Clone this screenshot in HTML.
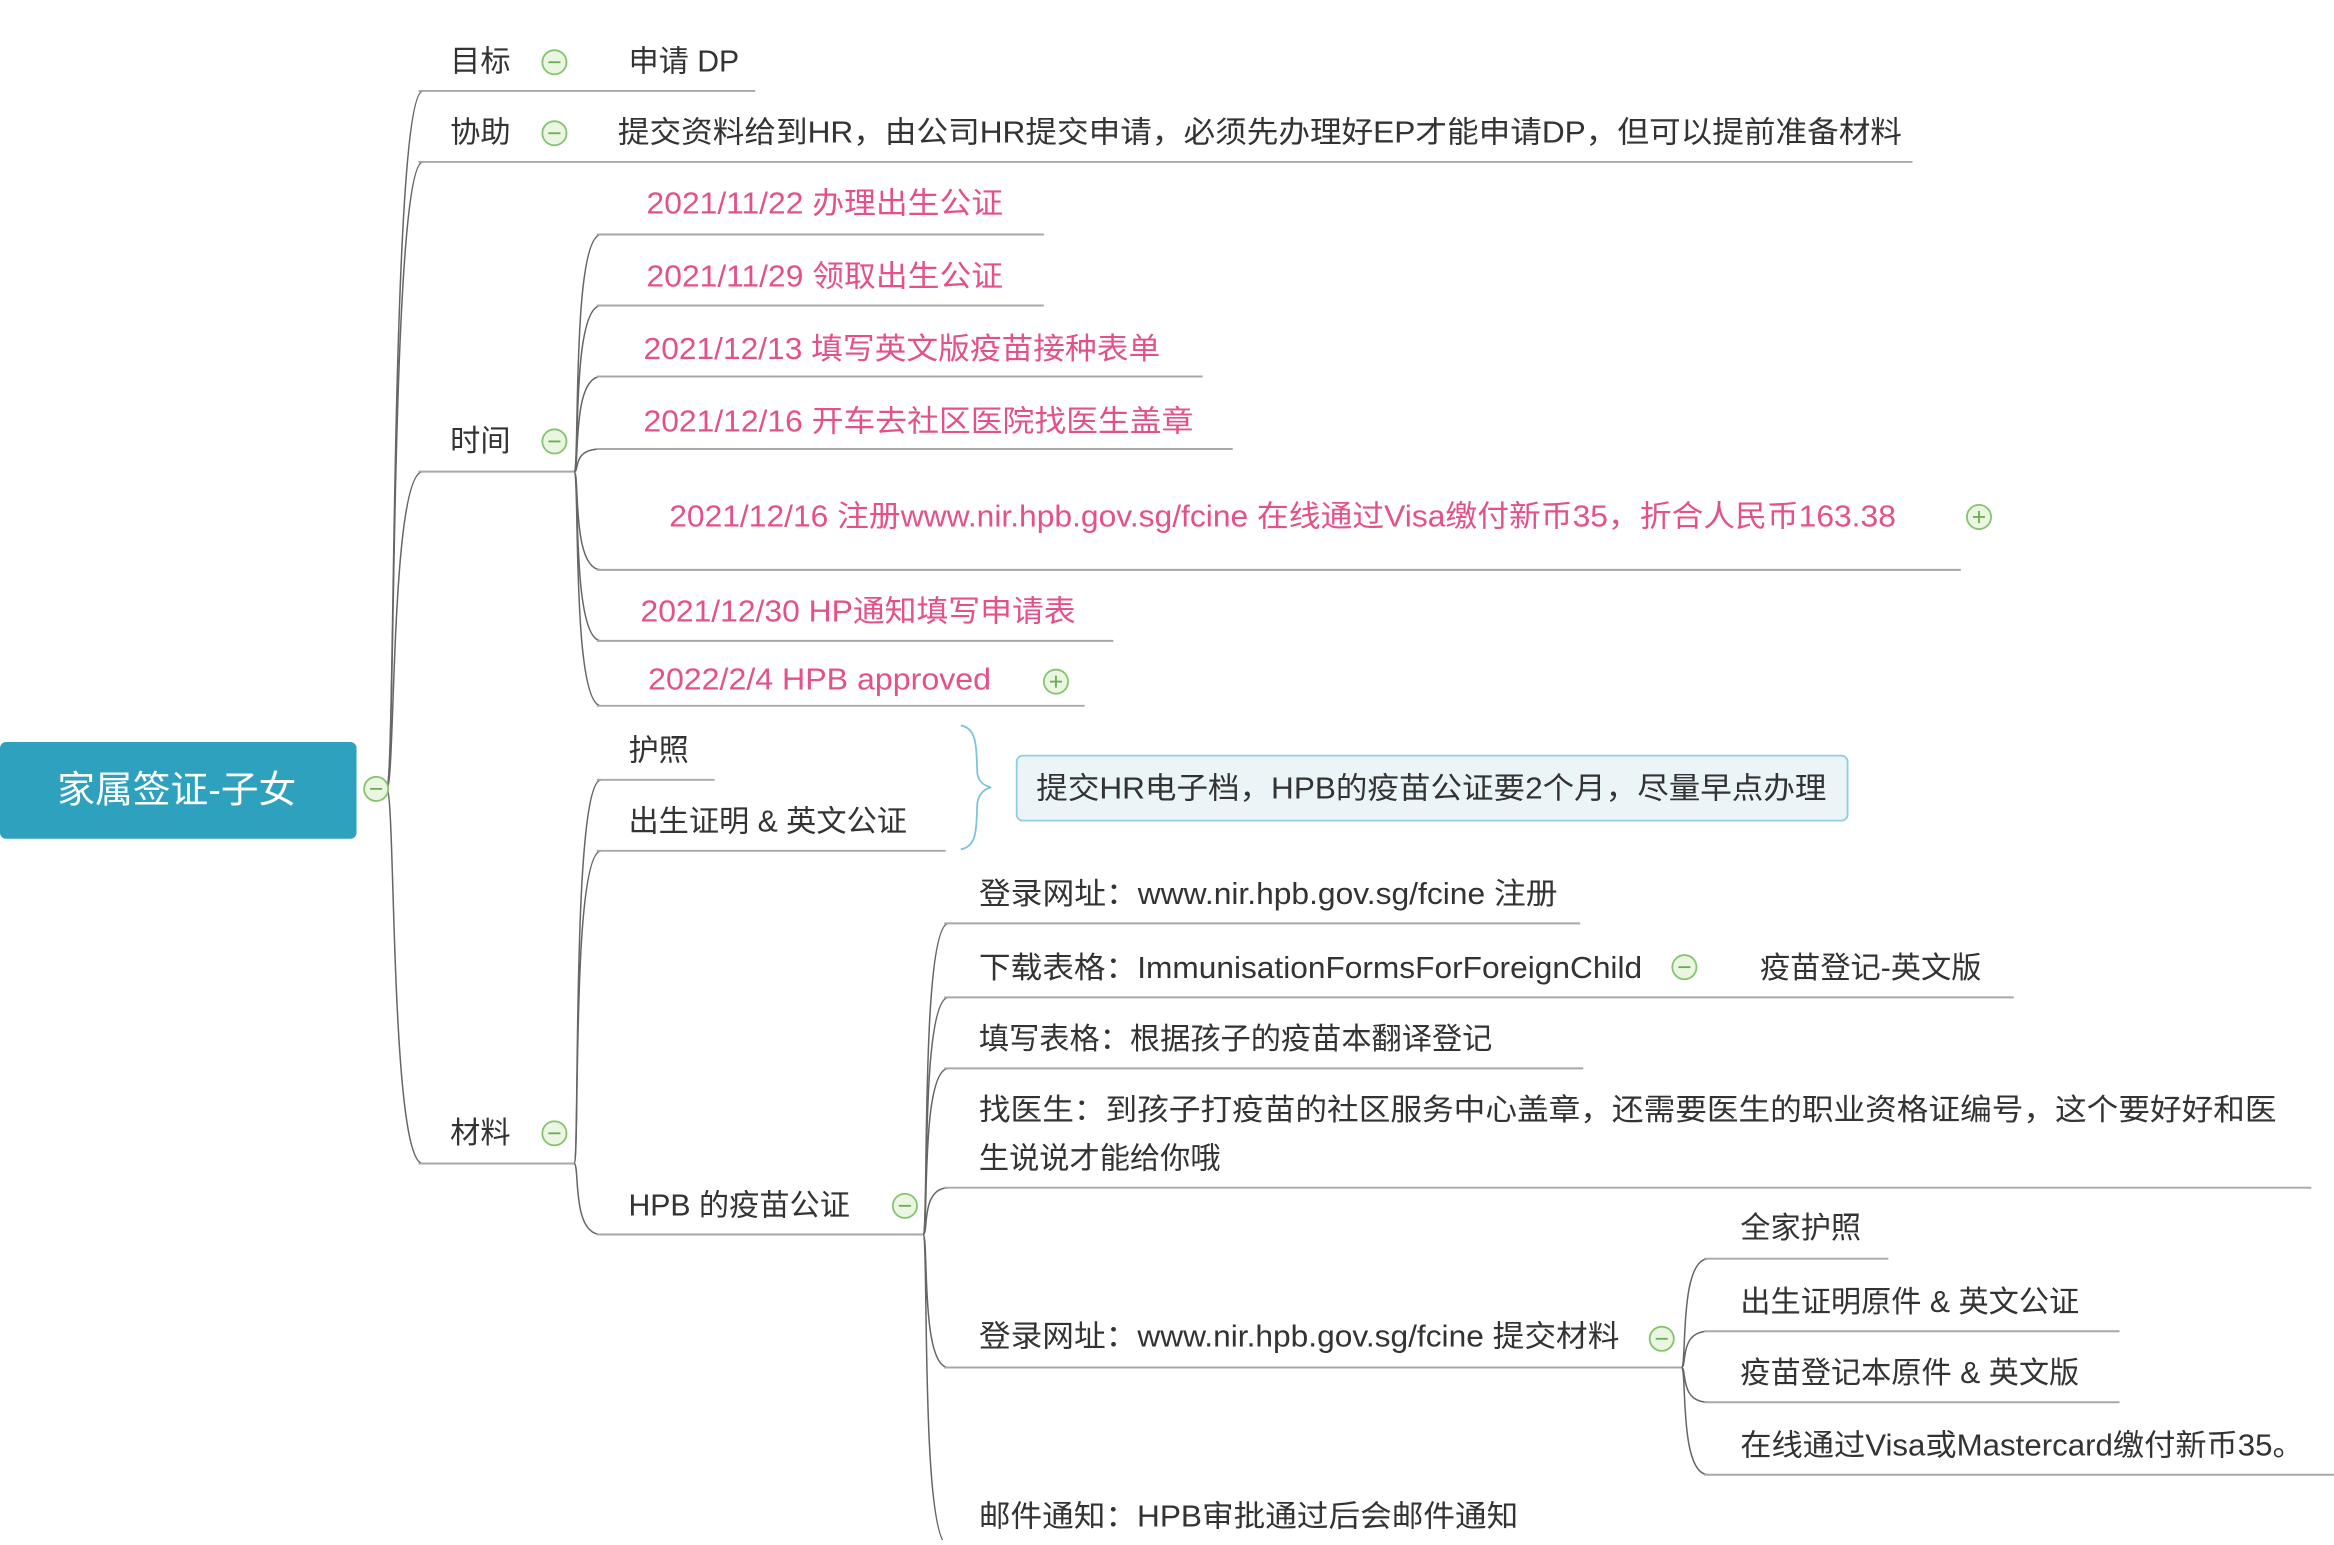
<!DOCTYPE html>
<html><head><meta charset="utf-8"><style>
html,body{margin:0;padding:0;background:#fff;}
svg text{font-family:"Liberation Sans","Noto Sans CJK SC",sans-serif;dominant-baseline:central;}
</style></head><body>
<svg width="2334" height="1540" viewBox="0 0 1545 1019" xmlns="http://www.w3.org/2000/svg">
<defs>
<g id="minus"><circle r="8" fill="#eaf6e2" stroke="#86c46f" stroke-width="1.2"/><line x1="-4" y1="0" x2="4" y2="0" stroke="#6aab55" stroke-width="1.2"/></g>
<g id="plus"><circle r="8" fill="#eaf6e2" stroke="#86c46f" stroke-width="1.2"/><line x1="-4" y1="0" x2="4" y2="0" stroke="#6aab55" stroke-width="1.2"/><line x1="0" y1="-4" x2="0" y2="4" stroke="#6aab55" stroke-width="1.2"/></g>
</defs>
<g fill="none" stroke="#666" stroke-width="1">
<!-- trunk curves -->
<path d="M256 522 C262 522 258 60 280 60"/>
<path d="M256 522 C262 522 258 107 280 107"/>
<path d="M256 522 C262 522 258 312 280 312"/>
<path d="M256 522 C262 522 258 770 280 770"/>
<!-- 时间 children -->
<path d="M380 312 C384 312 378 155 398 155"/>
<path d="M380 312 C384 312 378 202 398 202"/>
<path d="M380 312 C384 312 378 249 398 249"/>
<path d="M380 312 C384 312 378 297 398 297"/>
<path d="M380 312 C384 312 378 377 398 377"/>
<path d="M380 312 C384 312 378 424 398 424"/>
<path d="M380 312 C384 312 378 467 398 467"/>
<!-- 材料 children -->
<path d="M380 770 C384 770 378 516 398 516"/>
<path d="M380 770 C384 770 378 563 398 563"/>
<path d="M380 770 C384 770 378 817 398 817"/>
<!-- HPB children -->
<path d="M611 817 C615 817 609 611 628 611"/>
<path d="M611 817 C615 817 609 660 628 660"/>
<path d="M611 817 C615 817 609 707 628 707"/>
<path d="M611 817 C615 817 609 786 628 786"/>
<path d="M611 817 C615 817 609 905 628 905"/>
<path d="M611 817 C615 817 609 1023 628 1023"/>
<!-- 提交材料 children -->
<path d="M1113 905 C1117 905 1111 833 1131 833"/>
<path d="M1113 905 C1117 905 1111 881 1131 881"/>
<path d="M1113 905 C1117 905 1111 928 1131 928"/>
<path d="M1113 905 C1117 905 1111 976 1131 976"/>
</g>
<g stroke="#a8a8a8" stroke-width="1.3">
<line x1="277" y1="60" x2="500" y2="60"/>
<line x1="277" y1="107" x2="1266" y2="107"/>
<line x1="277" y1="312" x2="380" y2="312"/>
<line x1="277" y1="770" x2="380" y2="770"/>
<line x1="395" y1="155" x2="691" y2="155"/>
<line x1="395" y1="202" x2="691" y2="202"/>
<line x1="395" y1="249" x2="796" y2="249"/>
<line x1="395" y1="297" x2="816" y2="297"/>
<line x1="395" y1="377" x2="1298" y2="377"/>
<line x1="395" y1="424" x2="737" y2="424"/>
<line x1="395" y1="467" x2="718" y2="467"/>
<line x1="395" y1="516" x2="473" y2="516"/>
<line x1="395" y1="563" x2="626" y2="563"/>
<line x1="395" y1="817" x2="611" y2="817"/>
<line x1="625" y1="611" x2="1046" y2="611"/>
<line x1="625" y1="660" x2="1333" y2="660"/>
<line x1="625" y1="707" x2="1048" y2="707"/>
<line x1="625" y1="786" x2="1530" y2="786"/>
<line x1="625" y1="905" x2="1113" y2="905"/>
<line x1="625" y1="1023" x2="1021" y2="1023"/>
<line x1="1128" y1="833" x2="1250" y2="833"/>
<line x1="1128" y1="881" x2="1403" y2="881"/>
<line x1="1128" y1="928" x2="1403" y2="928"/>
<line x1="1128" y1="976" x2="1545" y2="976"/>
</g>
<!-- root -->
<rect x="0" y="491" width="236" height="64" rx="4" fill="#2ea1bf"/>
<text x="117" y="523" font-size="25" fill="#fff" text-anchor="middle">家属签证-子女</text>
<use href="#minus" x="249" y="522"/>
<!-- brace -->
<path d="M636 480 C648 482 646 498 647 512 C648 518 652 520 656 521 C652 522 648 525 647 531 C646 545 648 560 636 562" fill="none" stroke="#7cc4da" stroke-width="1.2"/>
<rect x="673" y="500" width="550" height="43" rx="4" fill="#ebf4f6" stroke="#8fcfe0" stroke-width="1.2"/>
<g font-size="20" fill="#333">
<text x="686" y="522" textLength="523" lengthAdjust="spacingAndGlyphs">提交HR电子档，HPB的疫苗公证要2个月，尽量早点办理</text>
<text x="298" y="41">目标</text>
<text x="416" y="41">申请 DP</text>
<text x="298" y="88">协助</text>
<text x="409" y="88" textLength="850" lengthAdjust="spacingAndGlyphs">提交资料给到HR，由公司HR提交申请，必须先办理好EP才能申请DP，但可以提前准备材料</text>
<text x="298" y="292">时间</text>
<text x="298" y="750">材料</text>
<text x="416" y="497">护照</text>
<text x="416" y="544">出生证明 &amp; 英文公证</text>
<text x="416" y="798">HPB 的疫苗公证</text>
<text x="648" y="592" textLength="383" lengthAdjust="spacingAndGlyphs">登录网址：www.nir.hpb.gov.sg/fcine 注册</text>
<text x="648" y="641" textLength="439" lengthAdjust="spacingAndGlyphs">下载表格：ImmunisationFormsForForeignChild</text>
<text x="1165" y="641">疫苗登记-英文版</text>
<text x="648" y="688">填写表格：根据孩子的疫苗本翻译登记</text>
<text x="648" y="735" textLength="859" lengthAdjust="spacingAndGlyphs">找医生：到孩子打疫苗的社区服务中心盖章，还需要医生的职业资格证编号，这个要好好和医</text>
<text x="648" y="767">生说说才能给你哦</text>
<text x="648" y="885" textLength="424" lengthAdjust="spacingAndGlyphs">登录网址：www.nir.hpb.gov.sg/fcine 提交材料</text>
<text x="648" y="1004" textLength="357" lengthAdjust="spacingAndGlyphs">邮件通知：HPB审批通过后会邮件通知</text>
<text x="1152" y="813">全家护照</text>
<text x="1152" y="862">出生证明原件 &amp; 英文公证</text>
<text x="1152" y="909">疫苗登记本原件 &amp; 英文版</text>
<text x="1152" y="957" textLength="373" lengthAdjust="spacingAndGlyphs">在线通过Visa或Mastercard缴付新币35。</text>
</g>
<g font-size="20" fill="#e4508a">
<text x="428" y="135" textLength="236" lengthAdjust="spacingAndGlyphs">2021/11/22 办理出生公证</text>
<text x="428" y="183" textLength="236" lengthAdjust="spacingAndGlyphs">2021/11/29 领取出生公证</text>
<text x="426" y="231" textLength="342" lengthAdjust="spacingAndGlyphs">2021/12/13 填写英文版疫苗接种表单</text>
<text x="426" y="279" textLength="364" lengthAdjust="spacingAndGlyphs">2021/12/16 开车去社区医院找医生盖章</text>
<text x="443" y="342" textLength="812" lengthAdjust="spacingAndGlyphs">2021/12/16 注册www.nir.hpb.gov.sg/fcine 在线通过Visa缴付新币35，折合人民币163.38</text>
<text x="424" y="405" textLength="288" lengthAdjust="spacingAndGlyphs">2021/12/30 HP通知填写申请表</text>
<text x="429" y="450" textLength="227" lengthAdjust="spacingAndGlyphs">2022/2/4 HPB approved</text>
</g>
<use href="#minus" x="367" y="41"/>
<use href="#minus" x="367" y="88"/>
<use href="#minus" x="367" y="292"/>
<use href="#minus" x="367" y="750"/>
<use href="#minus" x="599" y="798"/>
<use href="#minus" x="1115" y="640"/>
<use href="#minus" x="1100" y="886"/>
<use href="#plus" x="1310" y="342"/>
<use href="#plus" x="699" y="451"/>
</svg>
</body></html>
